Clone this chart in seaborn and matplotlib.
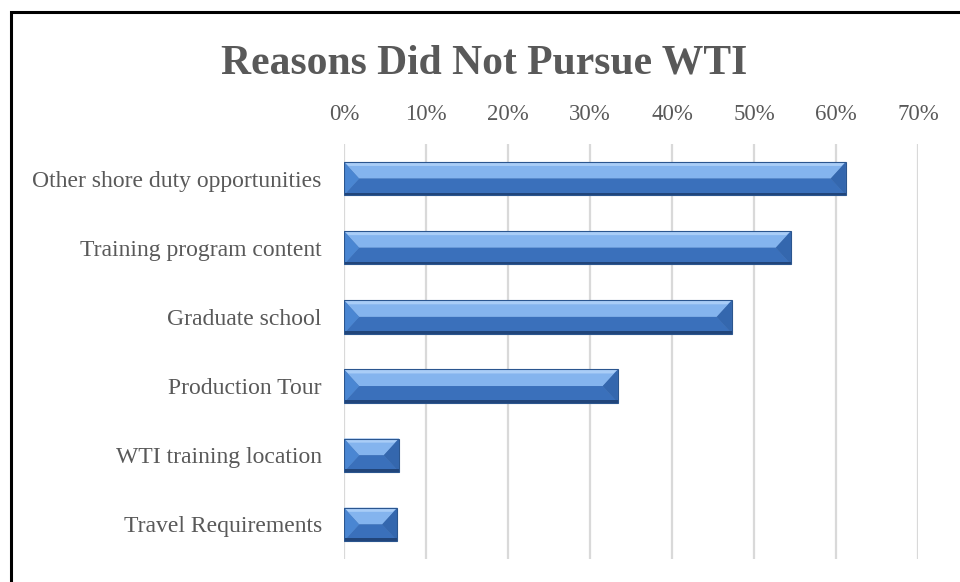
import seaborn as sns
import matplotlib.pyplot as plt
import matplotlib.patches as mpatches
import pandas as pd

reasons = ['Other shore duty opportunities', 'Training program content', 'Graduate school',
           'Production Tour', 'WTI training location', 'Travel Requirements']
pct = [61.2, 54.5, 47.3, 33.4, 6.7, 6.5]
ticks = [0, 10, 20, 30, 40, 50, 60, 70]

df = pd.DataFrame({'Reason': reasons, 'Pct': pct})

sns.set_style('white')
plt.rcParams['font.family'] = ['Liberation Serif', 'DejaVu Serif']

fig = plt.figure(figsize=(9.6, 5.82), dpi=100)
ax = fig.add_axes([344 / 960, 1 - 559 / 582, 574 / 960, 415 / 582])

sns.barplot(x='Pct', y='Reason', data=df, color='#4a82cc', width=0.48,
            edgecolor='none', ax=ax, zorder=3)

# bevel look: light top, dark bottom edge, shaded end caps
for p in ax.patches[:len(pct)]:
    x0, y0 = p.get_x(), p.get_y()
    w, h = p.get_width(), p.get_height()
    top, bot = y0, y0 + h  # inverted y axis: top is y0
    cap = min(0.55 * h * 7.0, w / 2)
    ax.add_patch(mpatches.Polygon([(x0, top), (x0 + w, top), (x0 + w - cap, top + h * 0.5),
                                   (x0 + cap, top + h * 0.5)], closed=True,
                                  facecolor='#84b4ee', edgecolor='none', zorder=4))
    ax.add_patch(mpatches.Polygon([(x0, top), (x0 + w, top), (x0 + w - cap * 0.3, top + h * 0.12),
                                   (x0 + cap * 0.3, top + h * 0.12)], closed=True,
                                  facecolor='#a9cdf7', edgecolor='none', zorder=4))
    ax.add_patch(mpatches.Polygon([(x0 + cap, top + h * 0.5), (x0 + w - cap, top + h * 0.5),
                                   (x0 + w, bot), (x0, bot)], closed=True,
                                  facecolor='#3a70bb', edgecolor='none', zorder=4))
    ax.add_patch(mpatches.Polygon([(x0, top), (x0 + cap, top + h * 0.5), (x0, bot)], closed=True,
                                  facecolor='#4a86d2', edgecolor='none', zorder=5))
    ax.add_patch(mpatches.Polygon([(x0 + w, top), (x0 + w - cap, top + h * 0.5), (x0 + w, bot)],
                                  closed=True, facecolor='#3467ae', edgecolor='none', zorder=5))
    ax.add_patch(mpatches.Rectangle((x0, bot - h * 0.08), w, h * 0.08,
                                    facecolor='#21457a', edgecolor='none', zorder=6))
    ax.add_patch(mpatches.Rectangle((x0, top), w, h, facecolor='none',
                                    edgecolor='#2b568f', linewidth=0.8, zorder=7))

ax.set_xlim(0, 70)
ax.set_xticks(ticks)
ax.set_xticklabels([f'{t}%' for t in ticks])
ax.xaxis.tick_top()
ax.grid(axis='x', color='#d9d9d9', linewidth=1.6, zorder=0)
ax.set_axisbelow(True)
for s in ax.spines.values():
    s.set_visible(False)
ax.tick_params(axis='x', length=0, pad=14, labelsize=16.5, labelcolor='#595959')
ax.tick_params(axis='y', length=0, pad=16, labelsize=17, labelcolor='#595959')
ax.set_xlabel('')
ax.set_ylabel('')

fig.text(484 / 960, 1 - 73 / 582, 'Reasons Did Not Pursue WTI', ha='center', va='baseline',
         fontsize=30, fontweight='bold', color='#595959')

fig.patches.append(mpatches.Rectangle((11 / 960, -0.05), 1.1, 1 - 12 / 582 + 0.05,
                                      transform=fig.transFigure, fill=False,
                                      edgecolor='black', linewidth=2.2, figure=fig))

plt.savefig('out.png', dpi=100)
plt.close()
